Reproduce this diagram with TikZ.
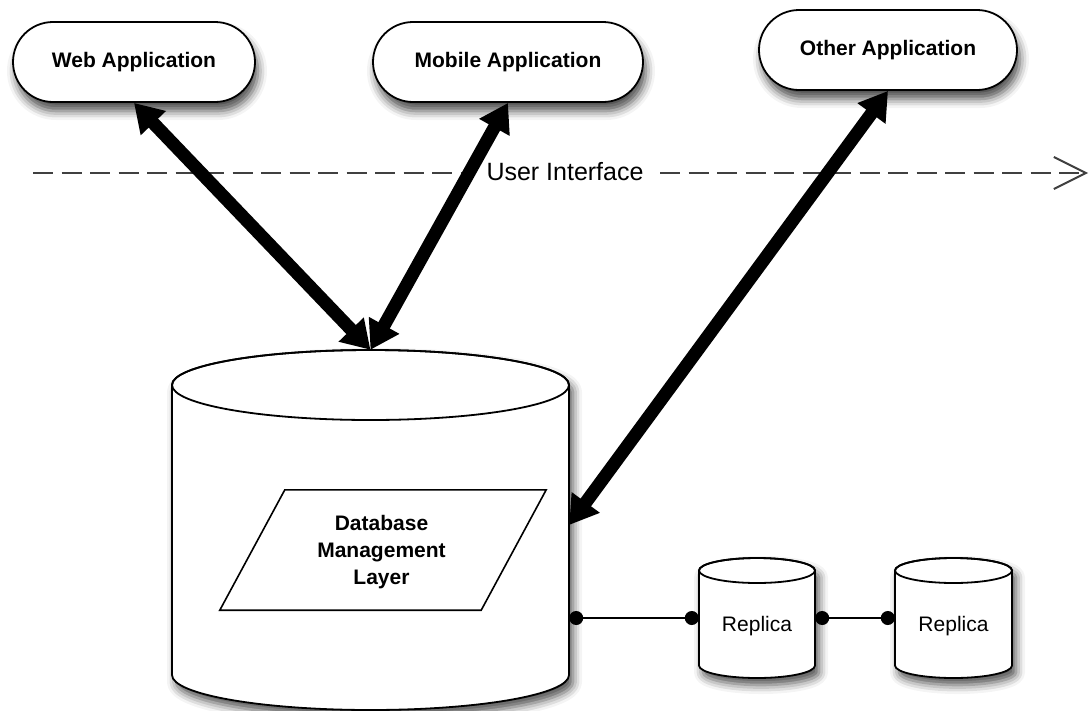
\documentclass[tikz,border=0pt]{standalone}
\usepackage{fontspec}
\setmainfont{Liberation Sans}
\usetikzlibrary{arrows.meta,calc,shadows.blur}

% Database drum: #1 name, #2 centre x, #3 centre y, #4 width, #5 height, #6 cap radius
\newcommand\drawdrum[6]{%
  \node[inner sep=0pt, minimum width=#4pt, minimum height=#5pt] (#1) at (#2,#3) {};
  \path[drumbody] (#2-#4/2,#3+#5/2-#6) -- (#2-#4/2,#3-#5/2+#6)
     arc[start angle=180, end angle=360, x radius=#4/2, y radius=#6]
     -- (#2+#4/2,#3+#5/2-#6)
     arc[start angle=0, end angle=180, x radius=#4/2, y radius=#6] -- cycle;
  \draw[drumline] (#2,#3+#5/2-#6) ellipse[x radius=#4/2, y radius=#6];
}

\begin{document}
\begin{tikzpicture}[x=1pt,y=1pt,
  appbox/.style={draw=black, line width=1.8pt, fill=white, rounded corners=40pt,
    minimum height=80pt, inner sep=0pt, font=\fontsize{21}{25}\selectfont\bfseries,
    blur shadow={shadow xshift=3pt, shadow yshift=-9pt, shadow blur radius=9pt, shadow opacity=70}},
  drumbody/.style={draw=black, line width=1.8pt, fill=white,
    blur shadow={shadow xshift=4pt, shadow yshift=-7pt, shadow blur radius=9pt, shadow opacity=70}},
  drumline/.style={draw=black, line width=1.8pt},
  plainline/.style={draw=black, line width=1.6pt},
  boldtxt/.style={inner sep=0pt, align=center, font=\fontsize{21}{27}\selectfont\bfseries},
  repltxt/.style={inner sep=0pt, font=\fontsize{21}{25}\selectfont},
  uiline/.style={draw=black!75, line width=2.4pt, dash pattern=on 20pt off 8.5pt,
    -{Straight Barb[length=32pt, width=32pt, line width=2pt]}},
  uilabel/.style={fill=white, inner xsep=12pt, inner ysep=4pt, text=black,
    font=\fontsize{25}{30}\selectfont},
  bigarrow/.style={draw=black, line width=13pt,
    {Triangle[length=28pt, width=33pt]}-{Triangle[length=28pt, width=33pt]}},
  link/.style={draw=black, line width=1.8pt,
    {Circle[length=14pt]}-{Circle[length=14pt]}}
]
\useasboundingbox (0,0) rectangle (1090,-710);

% client applications
\node[appbox, minimum width=242pt] (web) at (134,-62) {Web Application};
\node[appbox, minimum width=270pt] (mobile) at (508,-62) {Mobile Application};
\node[appbox, minimum width=258pt] (other) at (888,-50) {Other Application};

% main database and its replicas
\drawdrum{db}{370.5}{-530}{397}{360}{35}
\drawdrum{r1}{757}{-618}{116}{120}{12.5}
\drawdrum{r2}{953.5}{-618}{117}{120}{12.5}
\node[repltxt] (r1txt) at ([yshift=-8pt]r1.center) {Replica};
\node[repltxt] (r2txt) at ([yshift=-8pt]r2.center) {Replica};

% database management layer
\node[inner sep=0pt, minimum width=326pt, minimum height=120pt] (dml) at (383,-550) {};
\draw[plainline] ([xshift=65pt]dml.north west) -- (dml.north east)
  -- ([xshift=-65pt]dml.south east) -- (dml.south west) -- cycle;
\node[boldtxt] (dmltxt) at ([xshift=-1.5pt,yshift=-2pt]dml.center) {Database\\Management\\Layer};

% replication links
\draw[link] (db.east |- r1.west) -- (r1.west);
\draw[link] (r1.east) -- (r2.west);

% user interface boundary
\coordinate (uistart) at (33,-173);
\coordinate (uiend) at (1088,-173);
\draw[uiline] (uistart) -- (uiend);
\node[uilabel] (ui) at (565,-172) {User Interface};

% client connections
\draw[bigarrow] (web.south) -- (db.north);
\draw[bigarrow] (mobile.south) -- (db.north);
\draw[bigarrow] (other.south) -- ([yshift=5pt]db.east);
\end{tikzpicture}
\end{document}
